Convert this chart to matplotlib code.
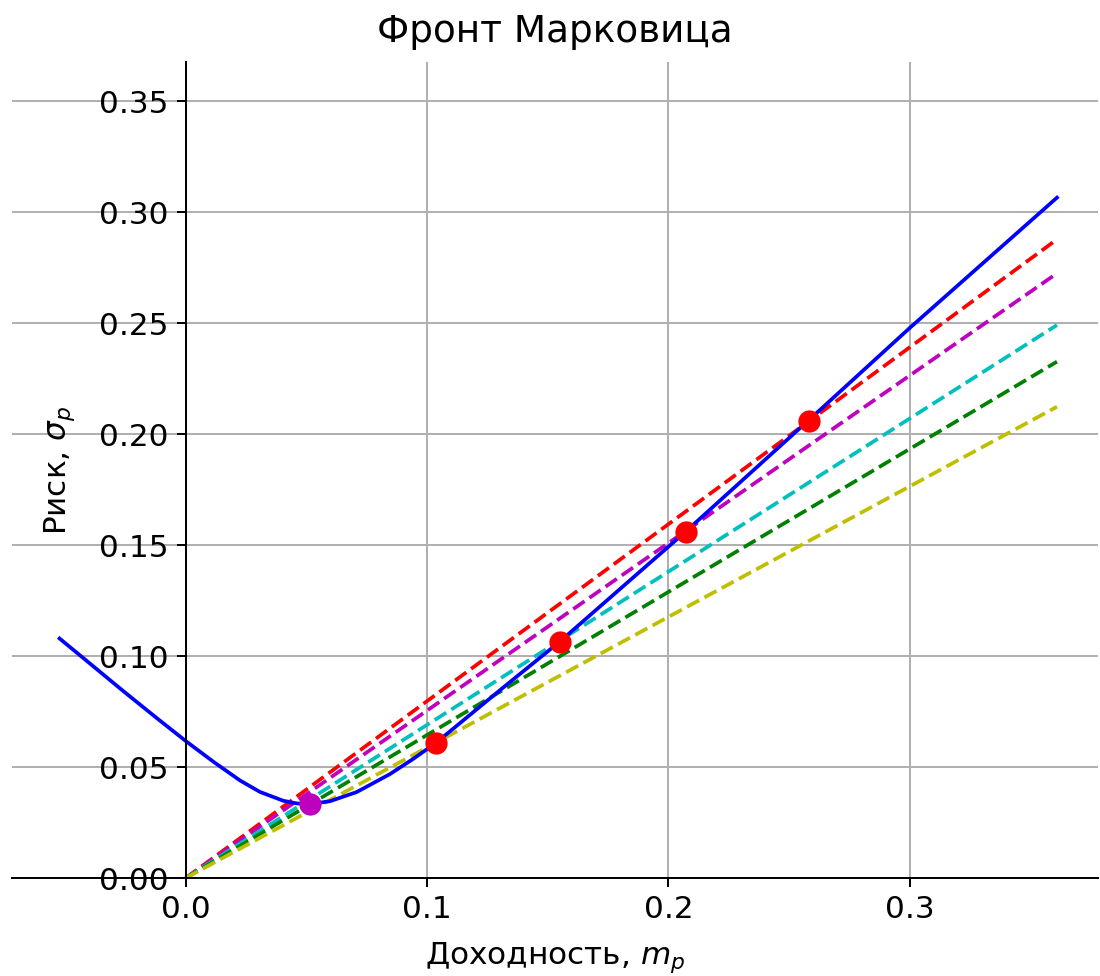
import matplotlib
matplotlib.use("Agg")
import matplotlib.pyplot as plt

plt.rcParams['font.size'] = 12.6

# Efficient frontier (return m_p, risk sigma_p)
frontier_m = [-0.0523, -0.0398, -0.0260, -0.0122, 0.0000, 0.0113, 0.0224,
              0.0307, 0.0404, 0.0460, 0.0515, 0.0598, 0.0708, 0.0846,
              0.0943, 0.1037, 0.1303, 0.1549, 0.2071, 0.2582,
              0.3000, 0.3610]
frontier_s = [0.1079, 0.0967, 0.0843, 0.0722, 0.0617, 0.0525, 0.0440,
              0.0388, 0.0348, 0.0336, 0.0333, 0.0346, 0.0387, 0.0468,
              0.0537, 0.0609, 0.0847, 0.1064, 0.1560, 0.2063,
              0.2478, 0.3065]

# Rays from the origin (end point at x_end)
ray_x_end = 0.361
ray_y_end = [0.2877, 0.2724, 0.2491, 0.2326, 0.2123]
ray_colors = ['r', 'm', 'c', 'g', 'y']

# Marked portfolios
pts_m = [0.0515, 0.1037, 0.1549, 0.2071, 0.2582]
pts_s = [0.0333, 0.0608, 0.1064, 0.1560, 0.2060]
pts_colors = ['m', 'r', 'r', 'r', 'r']

xticks = [0.0, 0.1, 0.2, 0.3]
yticks = [0.00, 0.05, 0.10, 0.15, 0.20, 0.25, 0.30, 0.35]

fig = plt.figure(figsize=(1100 / 178, 976 / 178), dpi=178)
ax = fig.add_axes([12 / 1100, 98 / 976, 1086 / 1100, 816 / 976])

for ye, c in zip(ray_y_end, ray_colors):
    ax.plot([0, ray_x_end], [0, ye], '--', color=c)

ax.plot(frontier_m, frontier_s, '-', color='b')

for m, s, c in zip(pts_m, pts_s, pts_colors):
    ax.plot([m], [s], 'o', color=c, markersize=8)

ax.set_xlim(-0.072, 0.378)
ax.set_ylim(0, 0.3676)
ax.set_xticks(xticks)
ax.set_yticks(yticks)
ax.set_xticklabels([f"{v:.1f}" for v in xticks])
ax.set_yticklabels([f"{v:.2f}" for v in yticks])

ax.spines['left'].set_position('zero')
ax.spines['bottom'].set_position('zero')
ax.spines['top'].set_visible(False)
ax.spines['right'].set_visible(False)
ax.grid(True)

ax.set_title("Фронт Марковица", pad=8)
ax.set_xlabel("Доходность, $m_p$", labelpad=6.4)
ax.set_ylabel("Риск, $\\sigma_p$", labelpad=9)

fig.savefig("out.png", dpi=178)
